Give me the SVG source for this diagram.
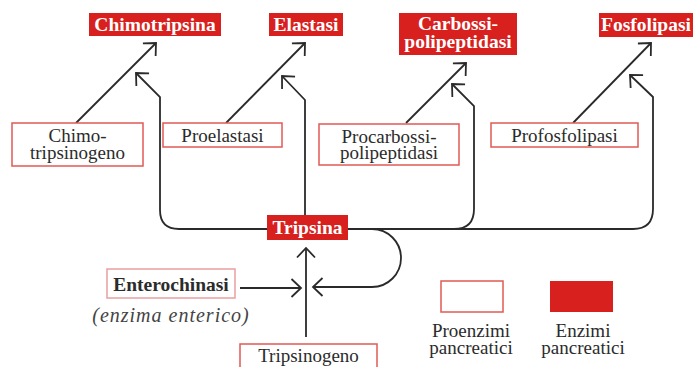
<svg xmlns="http://www.w3.org/2000/svg" width="696" height="367" viewBox="0 0 696 367">
<defs>
<style>
.enz{fill:#d8201e;stroke:none}
.pro{fill:#fff;stroke:#e05a55;stroke-width:1.5}
.wt{font-weight:bold;font-size:19.5px;fill:#fff;text-anchor:middle}
.bt{font-size:19px;fill:#2b2b2b;text-anchor:middle}
.bb{font-weight:bold;font-size:19.5px;fill:#2b2b2b;text-anchor:middle}
.it{font-style:italic;font-size:20px;letter-spacing:1px;fill:#444;text-anchor:middle}
.ln{fill:none;stroke:#2a2a2a;stroke-width:1.8;marker-end:url(#ah)}
</style>
<marker id="ah" markerUnits="userSpaceOnUse" markerWidth="24" markerHeight="24" refX="12" refY="12" orient="auto" viewBox="0 0 24 24">
<path d="M2.5,3 L12,12 L2.5,21" fill="none" stroke="#2a2a2a" stroke-width="1.8"/>
</marker>
</defs>
<rect width="696" height="367" fill="#fff"/>

<g id="connectors">
<path class="ln" d="M76,123 L156,43"/>
<path class="ln" d="M226,123 L305,43"/>
<path class="ln" d="M406,123 L466,63"/>
<path class="ln" d="M573,123 L651,43"/>
<path class="ln" d="M267,229 H179 Q160,229 160,210 V97 L136,73"/>
<path class="ln" d="M305,215 V100 L282,76"/>
<path class="ln" d="M348,229 H454 Q474,229 474,209 V106 L452,84"/>
<path class="ln" d="M454,229 H633 Q653,229 653,209 V97 L630,75"/>
<path class="ln" d="M348,229 H372 A29,29 0 0 1 401,258 A29,29 0 0 1 372,287 H313"/>
<path class="ln" d="M240,288 H301"/>
<path class="ln" d="M306,337 V248"/>
</g>

<g font-family="Liberation Serif, Times New Roman, serif">
<g id="chimotripsina">
<rect class="enz" x="89" y="13" width="132" height="23"/>
<text class="wt" x="155" y="31">Chimotripsina</text>
</g>
<g id="elastasi">
<rect class="enz" x="269" y="13" width="74" height="23"/>
<text class="wt" x="306" y="31">Elastasi</text>
</g>
<g id="carbossipolipeptidasi">
<rect class="enz" x="399" y="13" width="118" height="42"/>
<text class="wt" x="458" y="30">Carbossi-</text>
<text class="wt" x="458" y="48">polipeptidasi</text>
</g>
<g id="fosfolipasi">
<rect class="enz" x="599" y="13" width="94" height="24"/>
<text class="wt" x="646" y="31">Fosfolipasi</text>
</g>

<g id="chimotripsinogeno">
<rect class="pro" x="12" y="123" width="131" height="43"/>
<text class="bt" x="77.5" y="142">Chimo-</text>
<text class="bt" x="77.5" y="159">tripsinogeno</text>
</g>
<g id="proelastasi">
<rect class="pro" x="163" y="123" width="119" height="24"/>
<text class="bt" x="222.5" y="142">Proelastasi</text>
</g>
<g id="procarbossipolipeptidasi">
<rect class="pro" x="319" y="124" width="140" height="41"/>
<text class="bt" x="389" y="143">Procarbossi-</text>
<text class="bt" x="389" y="159">polipeptidasi</text>
</g>
<g id="profosfolipasi">
<rect class="pro" x="491" y="123" width="147" height="24"/>
<text class="bt" x="564.5" y="142">Profosfolipasi</text>
</g>

<g id="tripsina">
<rect class="enz" x="267" y="215" width="81" height="25"/>
<text class="wt" x="307.5" y="234">Tripsina</text>
</g>

<g id="enterochinasi">
<rect class="pro" x="107" y="269" width="128" height="29" style="stroke:#e8a0a0"/>
<text class="bb" x="171" y="291">Enterochinasi</text>
<text class="it" x="171" y="322">(enzima enterico)</text>
</g>

<g id="tripsinogeno">
<rect class="pro" x="240" y="344" width="137" height="30"/>
<text class="bt" x="308.5" y="362">Tripsinogeno</text>
</g>

<g id="legend-proenzimi">
<rect class="pro" x="441" y="281" width="62" height="31"/>
<text class="bt" x="471" y="337">Proenzimi</text>
<text class="bt" x="471" y="354">pancreatici</text>
</g>
<g id="legend-enzimi">
<rect class="enz" x="550" y="281" width="63" height="31"/>
<text class="bt" x="583" y="337">Enzimi</text>
<text class="bt" x="583" y="354">pancreatici</text>
</g>
</g>
</svg>
